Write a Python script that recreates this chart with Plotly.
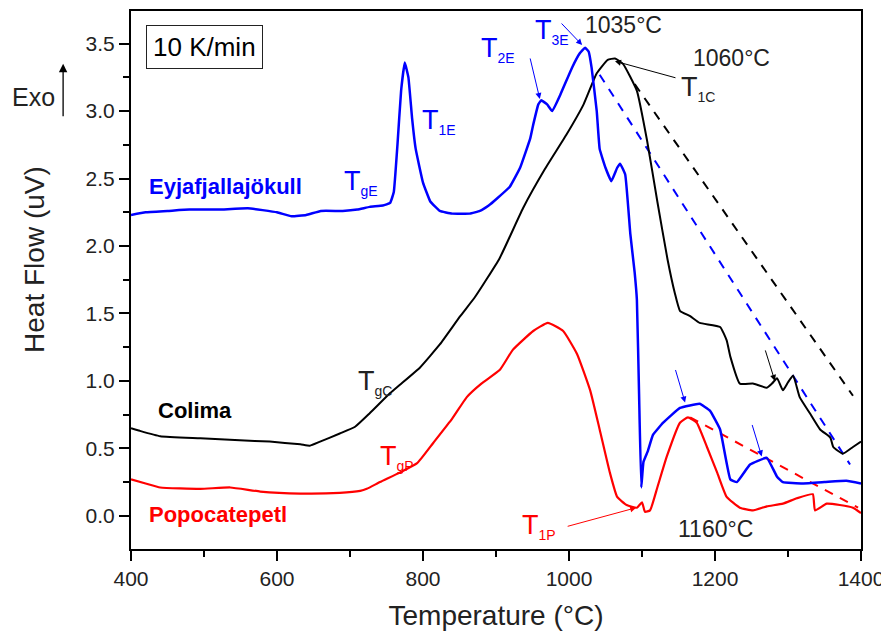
import plotly.graph_objects as go

# ---- data ----
eyja_T = [400, 420, 450, 480, 520, 560, 600, 620, 640, 660, 690, 710, 727, 745, 755, 760, 765, 770, 775, 780,
          785, 790, 800, 810, 823, 840, 864, 878, 890, 901, 919, 933, 947, 951, 958, 962, 970, 977, 988, 1004,
          1015, 1022, 1027, 1031, 1038, 1042, 1050, 1058, 1066, 1070, 1077, 1084, 1090, 1093, 1096, 1099, 1102,
          1108, 1115, 1129, 1152, 1179, 1193, 1207, 1221, 1230, 1248, 1271, 1285, 1293, 1320, 1350, 1380, 1400]
eyja_V = [2.23, 2.25, 2.26, 2.27, 2.27, 2.28, 2.25, 2.22, 2.23, 2.26, 2.26, 2.27, 2.29, 2.30, 2.32, 2.40, 2.75,
          3.15, 3.36, 3.25, 2.95, 2.72, 2.47, 2.33, 2.26, 2.24, 2.24, 2.26, 2.30, 2.35, 2.44, 2.58, 2.80, 2.90,
          3.05, 3.08, 3.05, 3.00, 3.12, 3.32, 3.43, 3.47, 3.44, 3.32, 3.00, 2.72, 2.58, 2.48, 2.58, 2.61, 2.53,
          2.09, 1.80, 1.60, 0.90, 0.21, 0.40, 0.48, 0.60, 0.69, 0.80, 0.83, 0.78, 0.64, 0.27, 0.25, 0.38, 0.43,
          0.29, 0.25, 0.24, 0.25, 0.26, 0.24]

colima_T = [400, 412, 440, 495, 549, 590, 632, 645, 659, 686, 707, 727, 755, 768, 796, 823, 851, 871, 905, 937,
            967, 997, 1020, 1038, 1053, 1063, 1074, 1093, 1107, 1121, 1135, 1145, 1152, 1166, 1179, 1207, 1216,
            1221, 1234, 1252, 1271, 1278, 1285, 1293, 1300, 1307, 1316, 1330, 1344, 1358, 1362, 1375, 1389, 1400]
colima_V = [0.65, 0.63, 0.59, 0.575, 0.56, 0.55, 0.53, 0.52, 0.55, 0.61, 0.66, 0.76, 0.91, 0.97, 1.10, 1.27,
            1.48, 1.62, 1.91, 2.28, 2.57, 2.83, 3.05, 3.28, 3.38, 3.39, 3.35, 3.15, 2.78, 2.33, 1.90, 1.65, 1.52,
            1.48, 1.43, 1.40, 1.30, 1.18, 0.98, 0.98, 0.95, 0.98, 1.02, 0.93, 0.99, 1.04, 0.88, 0.76, 0.64, 0.58,
            0.51, 0.46, 0.51, 0.55]

popo_T = [400, 420, 440, 495, 536, 577, 632, 686, 714, 723, 741, 768, 792, 814, 840, 860, 880, 905, 923, 951,
          971, 992, 1011, 1029, 1042, 1056, 1066, 1079, 1093, 1100, 1104, 1111, 1121, 1134, 1152, 1163, 1175,
          1189, 1203, 1216, 1234, 1252, 1271, 1293, 1312, 1334, 1337, 1353, 1371, 1389, 1400]
popo_V = [0.27, 0.24, 0.21, 0.20, 0.21, 0.18, 0.165, 0.17, 0.185, 0.20, 0.25, 0.32, 0.39, 0.54, 0.72, 0.88,
          0.98, 1.08, 1.23, 1.37, 1.43, 1.37, 1.20, 0.93, 0.64, 0.32, 0.14, 0.08, 0.06, 0.10, 0.03, 0.04, 0.21,
          0.44, 0.69, 0.73, 0.69, 0.51, 0.32, 0.14, 0.06, 0.04, 0.07, 0.09, 0.13, 0.16, 0.04, 0.09, 0.08, 0.06,
          0.02]

# dashed tangent lines (start, end)
eyja_dash_T = [1042, 1385]
eyja_dash_V = [3.27, 0.38]
colima_dash_T = [1090, 1389]
colima_dash_V = [3.20, 0.89]
popo_dash_T = [1166, 1396]
popo_dash_V = [0.73, 0.06]

BLUE = "#0000ff"
RED = "#ff0000"
BLACK = "#000000"
DARK = "#222222"
FONT = "Liberation Sans, Arial, sans-serif"

fig = go.Figure()
fig.add_trace(go.Scatter(x=eyja_dash_T, y=eyja_dash_V, mode="lines",
                         line=dict(color=BLUE, width=2, dash="9px,8px")))
fig.add_trace(go.Scatter(x=colima_dash_T, y=colima_dash_V, mode="lines",
                         line=dict(color=BLACK, width=2, dash="9px,8px")))
fig.add_trace(go.Scatter(x=popo_dash_T, y=popo_dash_V, mode="lines",
                         line=dict(color=RED, width=2, dash="9px,8px")))
fig.add_trace(go.Scatter(x=popo_T, y=popo_V, mode="lines",
                         line=dict(color=RED, width=2.2, shape="spline", smoothing=0.4)))
fig.add_trace(go.Scatter(x=colima_T, y=colima_V, mode="lines",
                         line=dict(color=BLACK, width=2, shape="spline", smoothing=0.4)))
fig.add_trace(go.Scatter(x=eyja_T, y=eyja_V, mode="lines",
                         line=dict(color=BLUE, width=2.5, shape="spline", smoothing=0.3)))

ann = []


def txt(x, y, s, color, size=20, bold=False, xref="x", yref="y"):
    ann.append(dict(x=x, y=y, xref=xref, yref=yref, text=("<b>%s</b>" % s) if bold else s,
                    xanchor="center", yanchor="middle",
                    showarrow=False, font=dict(family=FONT, size=size, color=color)))


def tlab(x, y, sub, color):
    s = "T<sub><span style='font-size:14px'>%s</span></sub>" % sub
    txt(x, y, s, color, 27)


def arrow(x, y, ax, ay, color, width=1, head=2, size=1.2):
    ann.append(dict(x=x, y=y, xref="x", yref="y", ax=ax, ay=ay, text="", showarrow=True,
                    arrowcolor=color, arrowwidth=width, arrowhead=head, arrowsize=size))


txt(529, 2.44, "Eyjafjallajökull", BLUE, 22, True)
txt(488, 0.78, "Colima", BLACK, 22, True)
txt(519, 0.007, "Popocatepetl", RED, 22, True)

tlab(715, 2.47, "gE", BLUE)
tlab(822, 2.92, "1E", BLUE)
tlab(903, 3.46, "2E", BLUE)
tlab(977, 3.59, "3E", BLUE)
tlab(1177, 3.17, "1C", DARK)
tlab(734, 0.99, "gC", DARK)
tlab(764, 0.43, "gP", RED)
tlab(959, -0.08, "1P", RED)
txt(1074, 3.64, "1035°C", DARK, 23)
txt(1223, 3.39, "1060°C", DARK, 23)
txt(1200, -0.10, "1160°C", DARK, 23)

arrow(960, 3.09, -10, -42, BLUE)
arrow(1018, 3.49, -22, -23, BLUE)
arrow(1063, 3.37, 62, 17, BLACK)
arrow(1159, 0.84, -10, -34, BLUE)
arrow(1264, 0.44, -10, -33, BLUE)
arrow(1282, 1.00, -10, -32, BLACK)
arrow(1092, 0.06, -70, 19, RED)

# rate box
ann.append(dict(x=0.101, y=0.933, xref="paper", yref="paper", text="10 K/min", showarrow=False,
                xanchor="center", yanchor="middle",
                font=dict(family=FONT, size=26, color=BLACK), bordercolor=DARK, borderwidth=1,
                borderpad=6, bgcolor="white"))
# Exo label with arrow
ann.append(dict(x=-0.134, y=0.841, xref="paper", yref="paper", text="Exo", showarrow=False,
                xanchor="center", yanchor="middle",
                font=dict(family=FONT, size=25, color=DARK)))
ann.append(dict(x=-0.093, y=0.902, xref="paper", yref="paper", ax=0, ay=54, text="", showarrow=True,
                arrowcolor=BLACK, arrowwidth=1.3, arrowhead=2, arrowsize=1.3))
# y-axis title (placed as rotated text to match reference position)
ann.append(dict(x=-0.133, y=0.539, xref="paper", yref="paper", text="Heat Flow (uV)", showarrow=False,
                xanchor="center", yanchor="middle", textangle=-90,
                font=dict(family=FONT, size=28, color=DARK)))

fig.update_layout(
    width=889, height=635,
    margin=dict(l=123, r=36, t=1, b=94),
    paper_bgcolor="white", plot_bgcolor="white",
    showlegend=False,
    annotations=ann,
    font=dict(family=FONT, color=DARK),
)
fig.update_xaxes(range=[400, 1400], tick0=400, dtick=200, ticks="outside", ticklen=10, tickwidth=2,
                 tickcolor=BLACK, showline=True, linecolor=BLACK, linewidth=2, mirror=True,
                 showgrid=False, zeroline=False, tickfont=dict(size=21, color=DARK),
                 minor=dict(dtick=100, tick0=400, ticks="outside", ticklen=6, tickwidth=2, tickcolor=BLACK),
                 title=dict(text="Temperature (°C)", font=dict(size=28, color=DARK), standoff=16))
fig.update_yaxes(range=[-0.246, 3.742], tick0=0, dtick=0.5, tickformat=".1f",
                 ticks="outside", ticklen=10, tickwidth=2,
                 tickcolor=BLACK, showline=True, linecolor=BLACK, linewidth=2, mirror=True,
                 showgrid=False, zeroline=False, tickfont=dict(size=21, color=DARK),
                 minor=dict(dtick=0.25, tick0=0, ticks="outside", ticklen=6, tickwidth=2, tickcolor=BLACK))

fig.write_html("out.html")
